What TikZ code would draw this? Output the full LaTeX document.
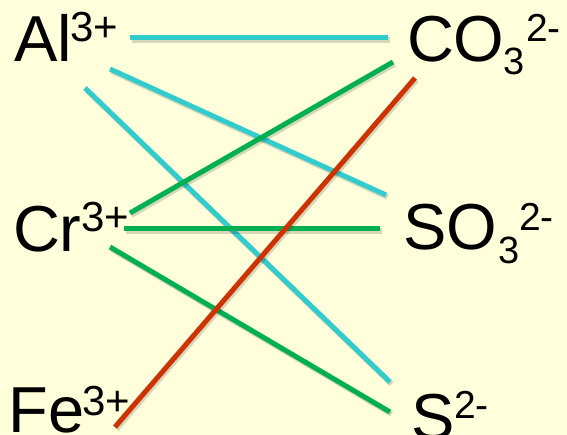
\documentclass[tikz,border=0pt]{standalone}
\usepackage{fontspec}
\setmainfont{Liberation Sans}
\definecolor{bg}{HTML}{FFFFDC}
\definecolor{ccyan}{HTML}{33CCCC}
\definecolor{cgreen}{HTML}{00B050}
\definecolor{cred}{HTML}{CC3300}
\begin{document}
\begin{tikzpicture}[x=1pt,y=-1pt,
  lbl/.style={anchor=base west,inner sep=0pt,outer sep=0pt,font=\fontsize{65}{65}\selectfont},
  supr/.style={anchor=base west,inner sep=0pt,outer sep=0pt,font=\fontsize{42}{42}\selectfont},
  supb/.style={anchor=base west,inner sep=0pt,outer sep=0pt,font=\fontsize{39}{39}\selectfont},
  subs/.style={anchor=base west,inner sep=0pt,outer sep=0pt,font=\fontsize{38}{38}\selectfont},
  conn/.style={line width=5,preaction={draw=black,opacity=0.16,line width=5.5,transform canvas={shift={(1.5,2)}}}}
]
\useasboundingbox (0,0) rectangle (567,435);
\fill[bg] (0,0) rectangle (567,435);

% labels
\node[lbl] (al) at (14,62) {Al};
\node[supr] (al3) at (70,42) {3+};
\node[lbl] (cr) at (13,252) {Cr};
\node[supr] (cr3) at (81,232) {3+};
\node[lbl] (fe) at (9,432) {Fe};
\node[supr] (fe3) at (82,415) {3+};

\node[lbl] (co) at (407,62) {CO};
\node[subs] (co3) at (503,75) {3};
\node[supb] (co2) at (526,42) {2-};
\node[lbl] (so) at (403,250) {SO};
\node[subs] (so3) at (498,264) {3};
\node[supb] (so2) at (519,231) {2-};
\node[lbl] (s) at (411,439) {S};
\node[supb] (s2) at (454,418) {2-};

% endpoints
\coordinate (c1a) at (130,38);  \coordinate (c1b) at (388,38);
\coordinate (c2a) at (110,69);  \coordinate (c2b) at (386,195);
\coordinate (c3a) at (85,88);   \coordinate (c3b) at (390,382);
\coordinate (g1a) at (130,213); \coordinate (g1b) at (393,62);
\coordinate (g2a) at (124,229); \coordinate (g2b) at (380,229);
\coordinate (g3a) at (110,247); \coordinate (g3b) at (390,412);
\coordinate (ra) at (115,427);  \coordinate (rb) at (415,78);

\draw[conn,ccyan] (c1a) -- (c1b);
\draw[conn,ccyan] (c2a) -- (c2b);
\draw[conn,ccyan] (c3a) -- (c3b);
\draw[conn,cgreen] (g1a) -- (g1b);
\draw[conn,cgreen] (g2a) -- (g2b);
\draw[conn,cgreen] (g3a) -- (g3b);
\draw[conn,cred] (ra) -- (rb);
\end{tikzpicture}
\end{document}
